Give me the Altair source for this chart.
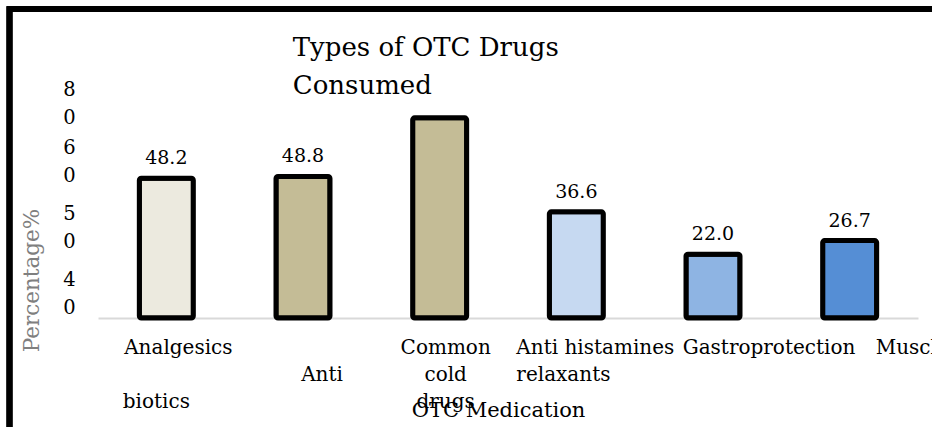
import altair as alt
import pandas as pd

categories = ["Analgesics", "Antibiotics", "Common cold drugs", "Anti histamines",
              "Gastroprotection", "Muscle relaxants"]
values = [48.2, 48.8, 69.0, 36.6, 22.0, 26.7]
value_labels = ["48.2", "48.8", "", "36.6", "22.0", "26.7"]
colors = ["#ECEADF", "#C4BC96", "#C4BC96", "#C6D9F1", "#8EB4E3", "#558ED5"]

# x tick labels as they appear (wrapped text), with their horizontal shifts
BLANK = "\u2800"
x_label_lines = [["Analgesics", BLANK, "biotics" + BLANK * 3], [BLANK, "Anti"],
                 ["Common", "cold", "drugs"], ["Anti histamines", "relaxants"],
                 ["Gastroprotection"], ["Muscle"]]
x_label_shift = [12, 19, 6, -60, 56, 26]
x_label_align = ["center", "center", "center", "left", "center", "left"]

# y tick labels as they appear (broken into two lines)
y_tick_values = [74.0, 53.8, 31.2, 8.6]
y_tick_lines = [["8", "0"], ["6", "0"], ["5", "0"], ["4", "0"]]

df = pd.DataFrame({"cat": categories, "val": values, "lab": value_labels})

FONT = "DejaVu Serif"


def arr(lines):
    return "[" + ",".join("'" + s + "'" for s in lines) + "]"


x_expr = ""
for c, l in zip(categories, x_label_lines):
    x_expr += f"datum.value == '{c}' ? {arr(l)} : "
x_expr += "datum.label"

y_expr = ""
for v, l in zip(y_tick_values, y_tick_lines):
    y_expr += f"abs(datum.value - {v}) < 0.5 ? {arr(l)} : "
y_expr += "''"

offset_cond = {
    "condition": [{"test": f"datum.value == '{c}'", "value": s}
                  for c, s in zip(categories, x_label_shift)],
    "value": 0,
}
align_cond = {
    "condition": [{"test": f"datum.value == '{c}'", "value": a}
                  for c, a in zip(categories, x_label_align) if a != "center"],
    "value": "center",
}

x_enc = alt.X(
    "cat:N", sort=categories,
    scale=alt.Scale(paddingInner=0, paddingOuter=0),
    axis=alt.Axis(
        title="OTC Medication", titleFont=FONT, titleFontSize=21, titleFontWeight="normal",
        titleColor="#000000", titleX=400, titleY=92, titleBaseline="middle",
        labelExpr=x_expr, labelAngle=0, labelFont=FONT, labelFontSize=20,
        labelColor="#000000", labelBaseline="top", labelPadding=19, labelLineHeight=27,
        labelOffset=offset_cond, labelAlign=align_cond, labelLimit=400,
        labelOverlap=False, labelBound=False, labelFlush=False,
        ticks=False, domainColor="#d9d9d9", domainWidth=2,
    ),
)
y_scale = alt.Scale(domain=[0, 79.3], nice=False, zero=True)

bars = alt.Chart(df).mark_bar(
    size=54, stroke="#000000", strokeWidth=5, cornerRadius=2
).encode(
    x=x_enc,
    y=alt.Y("val:Q", scale=y_scale, axis=alt.Axis(
        title="Percentage%", titleFont=FONT, titleFontSize=21.5, titleFontWeight="normal",
        titleColor="#7f7f7f", titleX=-66, titleY=192, titleAngle=270,
        titleAlign="center", titleBaseline="middle",
        values=y_tick_values, labelExpr=y_expr, labelFont=FONT, labelFontSize=19.5,
        labelColor="#000000", labelAlign="center", labelBaseline="middle",
        labelPadding=29, labelLineHeight=28, labelOffset=-14,
        domain=False, ticks=False, grid=False,
    )),
    color=alt.Color("cat:N", scale=alt.Scale(domain=categories, range=colors), legend=None),
)

texts = alt.Chart(df).mark_text(
    font=FONT, fontSize=19, color="#000000", baseline="alphabetic", dy=-14
).encode(
    x=alt.X("cat:N", sort=categories),
    y=alt.Y("val:Q", scale=y_scale),
    text="lab:N",
)

border = alt.Chart(df).mark_rect(
    fill=None, stroke="#000000", strokeWidth=5.5
).encode(
    x=alt.value(-88.5), x2=alt.value(880), y=alt.value(-79), y2=alt.value(400),
)

chart = alt.layer(bars, texts, border).properties(
    width=820, height=230,
    autosize=alt.AutoSizeParams(type="none"),
    padding={"left": 98, "top": 88, "right": 14, "bottom": 109},
    background="#ffffff",
    title=alt.Title(
        ["Types of OTC Drugs", "Consumed"], font=FONT, fontSize=26, fontWeight="normal",
        color="#000000", anchor="start", dx=286, lineHeight=38, baseline="alphabetic",
        offset=-114,
    ),
).configure_view(stroke=None)

chart.save("out.html", embed_options={"renderer": "svg", "actions": False})
